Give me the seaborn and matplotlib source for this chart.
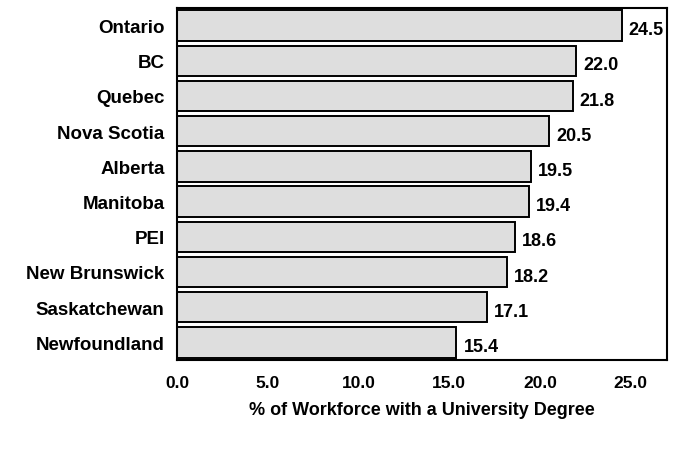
import seaborn as sns
import matplotlib.pyplot as plt
import pandas as pd

provinces = ["Ontario", "BC", "Quebec", "Nova Scotia", "Alberta", "Manitoba",
             "PEI", "New Brunswick", "Saskatchewan", "Newfoundland"]
pct_degree = [24.5, 22.0, 21.8, 20.5, 19.5, 19.4, 18.6, 18.2, 17.1, 15.4]
x_ticks = [0, 5, 10, 15, 20, 25]

sns.set_style("white")
plt.rcParams["font.family"] = ["Liberation Sans", "DejaVu Sans"]
plt.rcParams["font.weight"] = "bold"
plt.rcParams["text.color"] = "black"
plt.rcParams["xtick.color"] = "black"
plt.rcParams["ytick.color"] = "black"
plt.rcParams["axes.labelcolor"] = "black"

df = pd.DataFrame({"province": provinces, "pct": pct_degree})

fig = plt.figure(figsize=(6.77, 4.52), dpi=100)
ax = fig.add_axes([177 / 677, 1 - 361 / 452, 490 / 677, 352 / 452])

sns.barplot(data=df, x="pct", y="province", orient="h", ax=ax,
            color="#dedede", edgecolor="black", linewidth=1.4, width=0.86,
            saturation=1)

for bar, v in zip(ax.patches, pct_degree):
    ax.annotate("%.1f" % v, (bar.get_width(), bar.get_y() + bar.get_height() / 2),
                xytext=(5, -3), textcoords="offset points",
                ha="left", va="center", fontsize=13, fontweight="bold")

ax.set_xlim(0, 27)
ax.set_xticks(x_ticks)
ax.set_xticklabels(["%.1f" % t for t in x_ticks], fontsize=12.5, fontweight="bold")
ax.tick_params(axis="x", length=0, pad=11)
ax.tick_params(axis="y", length=0, pad=9, labelsize=13.5)
for lbl in ax.get_yticklabels():
    lbl.set_fontweight("bold")
ax.set_ylabel("")
ax.set_xlabel("% of Workforce with a University Degree", fontsize=13,
              fontweight="bold", labelpad=8)
for s in ax.spines.values():
    s.set_visible(True)
    s.set_color("black")
    s.set_linewidth(1.5)

fig.savefig("out.png", dpi=100)
